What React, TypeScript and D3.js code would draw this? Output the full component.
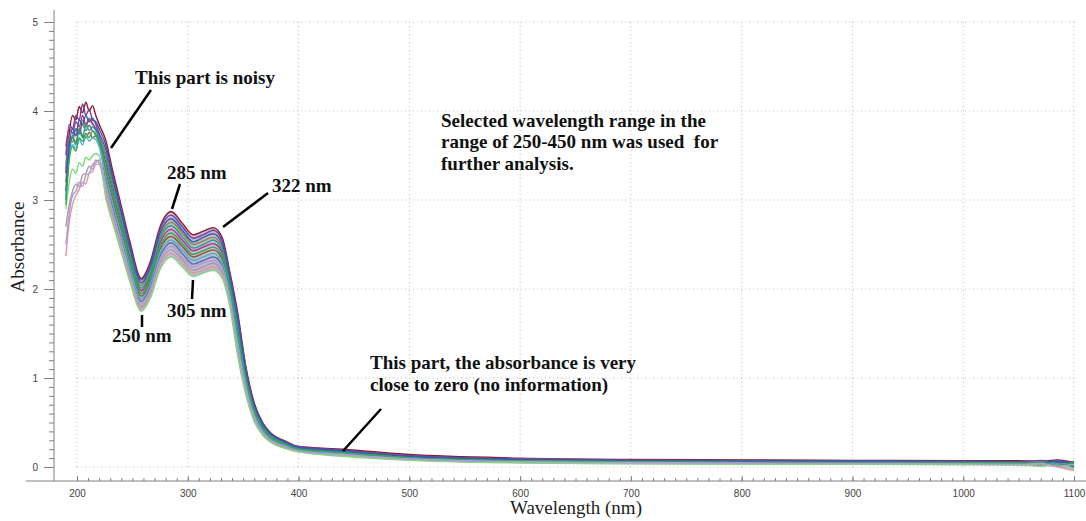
import React, { useEffect, useRef } from 'react';
import * as d3 from 'd3';

// wavelength grid (nm) shared by every spectrum
const wavelengths = [
  190, 193, 196, 199, 202, 205, 208, 211, 214, 217, 220,
  226, 232, 240, 248, 258, 266, 275, 285, 295, 305, 314, 323, 331, 338,
  345, 352, 360, 368, 376, 388, 400,
  440, 500, 600, 700, 800, 900, 1000, 1050, 1070, 1085, 1100,
];

// absorbance of each sample
const spectra = [
  [3.3, 3.75, 3.95, 3.9, 4.05, 3.98, 4.1, 4.0, 4.06, 3.95, 3.85, 3.67, 3.34, 2.93, 2.52, 2.12, 2.3, 2.7, 2.87, 2.74, 2.61, 2.65, 2.69, 2.58, 2.19, 1.74, 1.16, 0.72, 0.49, 0.37, 0.29, 0.23, 0.2, 0.14, 0.1, 0.085, 0.08, 0.075, 0.07, 0.07, 0.06, 0.08, 0.05],
  [3.5, 3.85, 3.8, 3.95, 3.9, 4.08, 3.95, 4.02, 3.9, 3.88, 3.8, 3.62, 3.29, 2.89, 2.48, 2.1, 2.27, 2.67, 2.83, 2.7, 2.57, 2.61, 2.66, 2.55, 2.16, 1.7, 1.14, 0.7, 0.48, 0.36, 0.28, 0.23, 0.19, 0.13, 0.09, 0.08, 0.075, 0.07, 0.065, 0.06, 0.075, 0.05, 0.06],
  [3.1, 3.6, 3.8, 3.72, 3.9, 3.85, 3.95, 3.88, 3.92, 3.85, 3.75, 3.57, 3.25, 2.85, 2.45, 2.07, 2.24, 2.63, 2.79, 2.66, 2.53, 2.58, 2.62, 2.51, 2.13, 1.67, 1.11, 0.69, 0.47, 0.36, 0.28, 0.22, 0.18, 0.12, 0.085, 0.07, 0.065, 0.065, 0.06, 0.055, 0.04, 0.07, 0.03],
  [3.4, 3.7, 3.65, 3.8, 3.75, 3.9, 3.82, 3.9, 3.85, 3.8, 3.72, 3.52, 3.2, 2.81, 2.42, 2.04, 2.21, 2.59, 2.75, 2.63, 2.5, 2.54, 2.58, 2.48, 2.1, 1.63, 1.09, 0.67, 0.46, 0.35, 0.27, 0.22, 0.18, 0.125, 0.09, 0.075, 0.07, 0.06, 0.06, 0.06, 0.05, 0.03, 0.06],
  [3.0, 3.5, 3.7, 3.62, 3.78, 3.7, 3.85, 3.78, 3.82, 3.78, 3.7, 3.47, 3.16, 2.77, 2.38, 2.01, 2.17, 2.56, 2.71, 2.59, 2.46, 2.5, 2.55, 2.44, 2.07, 1.59, 1.06, 0.66, 0.45, 0.34, 0.26, 0.21, 0.17, 0.11, 0.075, 0.065, 0.06, 0.055, 0.05, 0.045, 0.06, 0.04, 0.02],
  [3.6, 3.8, 3.75, 3.88, 3.82, 3.95, 3.85, 3.92, 3.86, 3.8, 3.7, 3.42, 3.11, 2.73, 2.35, 1.98, 2.14, 2.52, 2.67, 2.55, 2.43, 2.47, 2.51, 2.41, 2.04, 1.55, 1.03, 0.64, 0.43, 0.33, 0.26, 0.21, 0.17, 0.115, 0.08, 0.07, 0.065, 0.06, 0.055, 0.05, 0.035, 0.06, 0.04],
  [2.95, 3.45, 3.6, 3.55, 3.7, 3.66, 3.75, 3.7, 3.78, 3.72, 3.65, 3.37, 3.07, 2.69, 2.31, 1.95, 2.11, 2.48, 2.63, 2.51, 2.39, 2.43, 2.47, 2.37, 2.01, 1.51, 1.01, 0.63, 0.42, 0.32, 0.25, 0.2, 0.16, 0.105, 0.07, 0.06, 0.055, 0.05, 0.05, 0.045, 0.05, 0.02, 0.05],
  [3.2, 3.6, 3.7, 3.65, 3.8, 3.72, 3.7, 3.76, 3.7, 3.72, 3.66, 3.32, 3.02, 2.65, 2.28, 1.92, 2.08, 2.45, 2.59, 2.48, 2.36, 2.4, 2.44, 2.34, 1.98, 1.47, 0.98, 0.61, 0.41, 0.31, 0.25, 0.2, 0.16, 0.1, 0.07, 0.06, 0.05, 0.05, 0.045, 0.04, 0.03, 0.05, 0.01],
  [3.05, 3.5, 3.62, 3.58, 3.68, 3.62, 3.72, 3.66, 3.7, 3.68, 3.6, 3.27, 2.97, 2.61, 2.24, 1.89, 2.05, 2.41, 2.55, 2.44, 2.32, 2.36, 2.4, 2.3, 1.95, 1.44, 0.96, 0.59, 0.4, 0.31, 0.24, 0.19, 0.15, 0.095, 0.065, 0.055, 0.05, 0.045, 0.04, 0.04, 0.05, 0.03, 0.04],
  [3.35, 3.65, 3.72, 3.8, 3.74, 3.85, 3.78, 3.84, 3.78, 3.74, 3.64, 3.22, 2.93, 2.57, 2.21, 1.86, 2.02, 2.37, 2.52, 2.4, 2.28, 2.32, 2.36, 2.27, 1.92, 1.4, 0.93, 0.58, 0.39, 0.3, 0.23, 0.19, 0.15, 0.09, 0.06, 0.05, 0.045, 0.04, 0.04, 0.035, 0.02, 0.04, 0.0],
  [2.5, 2.85, 3.05, 3.1, 3.2, 3.15, 3.28, 3.3, 3.4, 3.42, 3.45, 3.17, 2.88, 2.53, 2.17, 1.83, 1.98, 2.33, 2.48, 2.36, 2.25, 2.29, 2.32, 2.23, 1.89, 1.36, 0.91, 0.56, 0.38, 0.29, 0.23, 0.18, 0.14, 0.09, 0.06, 0.05, 0.045, 0.04, 0.035, 0.03, 0.04, 0.01, 0.03],
  [2.7, 2.95, 3.1, 3.18, 3.15, 3.28, 3.3, 3.38, 3.35, 3.45, 3.42, 3.12, 2.84, 2.49, 2.14, 1.8, 1.95, 2.3, 2.44, 2.33, 2.21, 2.25, 2.29, 2.19, 1.86, 1.32, 0.88, 0.55, 0.37, 0.28, 0.22, 0.18, 0.14, 0.085, 0.055, 0.045, 0.04, 0.035, 0.035, 0.03, 0.015, 0.035, -0.01],
  [2.37, 2.75, 2.95, 3.05, 3.12, 3.2, 3.18, 3.3, 3.32, 3.4, 3.4, 3.07, 2.79, 2.45, 2.1, 1.78, 1.92, 2.26, 2.4, 2.29, 2.18, 2.21, 2.25, 2.16, 1.83, 1.28, 0.86, 0.53, 0.36, 0.27, 0.21, 0.17, 0.13, 0.08, 0.05, 0.04, 0.035, 0.03, 0.03, 0.025, 0.03, 0.0, -0.04],
  [2.9, 3.2, 3.35, 3.3, 3.42, 3.38, 3.48, 3.45, 3.5, 3.52, 3.5, 3.02, 2.75, 2.41, 2.07, 1.75, 1.89, 2.22, 2.36, 2.25, 2.14, 2.18, 2.21, 2.12, 1.8, 1.25, 0.83, 0.51, 0.35, 0.27, 0.21, 0.17, 0.12, 0.075, 0.045, 0.035, 0.03, 0.03, 0.025, 0.02, 0.01, 0.025, -0.02],
];

const spectrumColors = [
  '#8b1a2b', '#7b3f9e', '#2f5fb3', '#8a8a3a', '#2a9d8f', '#b0308a', '#3aa655',
  '#8b5a2b', '#4bb3c8', '#5b6fa8', '#b49ad8', '#a0a0a0', '#d89aa8', '#7fd97f',
];

// draw order, so the colours end up mixed in the band
const drawOrder = [0, 7, 3, 11, 5, 9, 1, 12, 4, 8, 2, 13, 6, 10];

const xTicks = [200, 300, 400, 500, 600, 700, 800, 900, 1000, 1100];
const yTicks = [0, 1, 2, 3, 4, 5];

const SERIF = "'Liberation Serif', 'Times New Roman', serif";
const SANS = "'Liberation Sans', Arial, sans-serif";

function SpectraChart() {
  const chartRef = useRef(null);

  useEffect(() => {
    const svg = d3.select(chartRef.current);
    svg.selectAll('*').remove();

    const x = d3.scaleLinear().domain([200, 1100]).range([77, 1074]);
    const y = d3.scaleLinear().domain([0, 5]).range([467, 22]);
    const axisX = 54;
    const axisY = 481;
    const fmt = d3.format('d');

    // dotted grid
    const grid = svg.append('g').attr('stroke', '#bdbdbd').attr('stroke-dasharray', '1,3');
    xTicks.forEach((t) => {
      grid.append('line').attr('x1', x(t)).attr('x2', x(t)).attr('y1', y(0)).attr('y2', y(5));
    });
    yTicks.forEach((t) => {
      grid.append('line').attr('x1', x(200)).attr('x2', x(1100)).attr('y1', y(t)).attr('y2', y(t));
    });

    // filled envelope behind the lines (from the data, past the noisy start)
    const idx = wavelengths.map((_, i) => i).filter((i) => wavelengths[i] >= 226);
    const area = d3
      .area()
      .x((i) => x(wavelengths[i]))
      .y0((i) => y(d3.min(spectra, (s) => s[i])))
      .y1((i) => y(d3.max(spectra, (s) => s[i])))
      .curve(d3.curveMonotoneX);
    svg.append('path').attr('d', area(idx)).attr('fill', '#8d80ab').attr('opacity', 0.55);

    const line = d3
      .line()
      .x((_, i) => x(wavelengths[i]))
      .y((d) => y(d))
      .curve(d3.curveMonotoneX);

    svg
      .append('g')
      .selectAll('path')
      .data(drawOrder)
      .enter()
      .append('path')
      .attr('d', (k) => line(spectra[k]))
      .attr('fill', 'none')
      .attr('stroke', (k) => spectrumColors[k])
      .attr('stroke-width', 1.4)
      .attr('stroke-linejoin', 'round');

    // y axis
    const yMinor = d3.range(0, 5.001, 0.1);
    svg
      .append('g')
      .attr('transform', `translate(${axisX},0)`)
      .call(d3.axisLeft(y).tickValues(yMinor).tickSize(5).tickFormat(() => ''))
      .call((g) => g.select('.domain').remove())
      .call((g) => g.selectAll('line').attr('stroke', '#808080'));
    svg
      .append('g')
      .attr('transform', `translate(${axisX},0)`)
      .call(d3.axisLeft(y).tickValues(yTicks).tickSize(10).tickPadding(6).tickFormat(fmt))
      .call((g) => g.select('.domain').remove())
      .call((g) => g.selectAll('line').attr('stroke', '#808080'))
      .call((g) =>
        g.selectAll('text').attr('font-family', SANS).attr('font-size', 10).attr('fill', '#444')
      );
    svg
      .append('line')
      .attr('x1', axisX)
      .attr('x2', axisX)
      .attr('y1', 10)
      .attr('y2', axisY)
      .attr('stroke', '#808080');

    // x axis
    const xMinor = d3.range(200, 1101, 10);
    svg
      .append('g')
      .attr('transform', `translate(0,${axisY})`)
      .call(d3.axisBottom(x).tickValues(xMinor).tickSizeInner(-3).tickSizeOuter(0).tickFormat(() => ''))
      .call((g) => g.select('.domain').remove())
      .call((g) => g.selectAll('line').attr('stroke', '#808080'));
    svg
      .append('g')
      .attr('transform', `translate(0,${axisY})`)
      .call(
        d3.axisBottom(x).tickValues(xTicks).tickSizeInner(-5).tickSizeOuter(0).tickPadding(9).tickFormat(fmt)
      )
      .call((g) => g.select('.domain').remove())
      .call((g) => g.selectAll('line').attr('stroke', '#808080'))
      .call((g) =>
        g.selectAll('text').attr('font-family', SANS).attr('font-size', 10).attr('fill', '#444')
      );
    svg
      .append('line')
      .attr('x1', 26)
      .attr('x2', 1086)
      .attr('y1', axisY)
      .attr('y2', axisY)
      .attr('stroke', '#808080');

    // axis titles
    svg
      .append('text')
      .attr('transform', 'translate(24,247) rotate(-90)')
      .attr('text-anchor', 'middle')
      .attr('font-family', SERIF)
      .attr('font-size', 19)
      .attr('fill', '#222')
      .text('Absorbance');
    svg
      .append('text')
      .attr('x', 576)
      .attr('y', 514)
      .attr('text-anchor', 'middle')
      .attr('font-family', SERIF)
      .attr('font-size', 19)
      .attr('fill', '#222')
      .text('Wavelength (nm)');

    // annotations
    const note = (tx, ty, str) =>
      svg
        .append('text')
        .attr('x', tx)
        .attr('y', ty)
        .attr('font-family', SERIF)
        .attr('font-weight', 'bold')
        .attr('font-size', 19)
        .attr('fill', '#111')
        .style('white-space', 'pre')
        .text(str);
    const pointer = (x1, y1, x2, y2) =>
      svg
        .append('line')
        .attr('x1', x1)
        .attr('y1', y1)
        .attr('x2', x2)
        .attr('y2', y2)
        .attr('stroke', '#000')
        .attr('stroke-width', 2.5);

    note(135, 84, 'This part is noisy');
    pointer(151, 90, 111, 148);

    note(167, 179, '285 nm');
    pointer(180, 184, 172, 209);

    note(272, 192, '322 nm');
    pointer(268, 193, 223, 227);

    note(167, 317, '305 nm');
    pointer(193, 280, 192, 299);

    note(112, 342, '250 nm');
    pointer(142, 315, 142, 327);

    note(441, 127, 'Selected wavelength range in the');
    note(441, 148, 'range of 250-450 nm was used  for');
    note(441, 170, 'further analysis.');

    note(370, 369, 'This part, the absorbance is very');
    note(370, 391, 'close to zero (no information)');
    pointer(381, 409, 343, 451);
  }, []);

  return (
    <svg
      ref={chartRef}
      width={1086}
      height={521}
      style={{ position: 'absolute', left: 0, top: 0, background: '#fff' }}
    />
  );
}

export default function App() {
  return <SpectraChart />;
}
